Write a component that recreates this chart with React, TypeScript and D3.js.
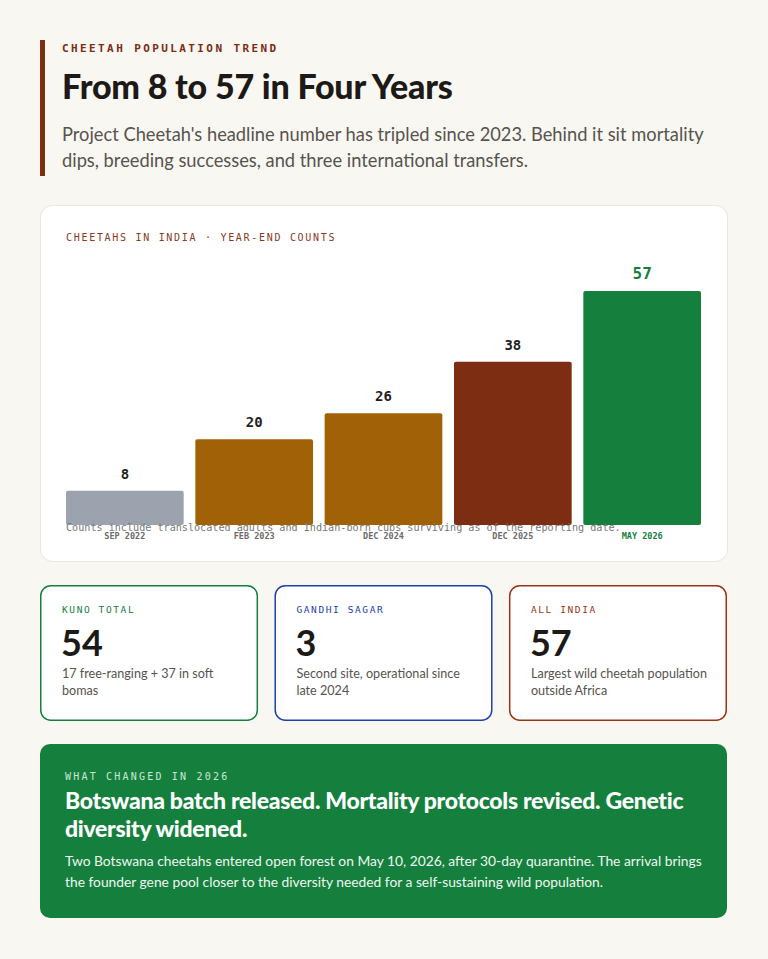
import React from "react";
import * as d3 from "d3";

// chart data
const periods = ["SEP 2022", "FEB 2023", "DEC 2024", "DEC 2025", "MAY 2026"];
const counts = [8, 20, 26, 38, 57];
const barColors = ["#9ca3af", "#a16207", "#a16207", "#7c2d12", "#15803d"];

// stat cards
const statLabels = ["KUNO TOTAL", "GANDHI SAGAR", "ALL INDIA"];
const statValues = [54, 3, 57];
const statNotes = [
  ["17 free-ranging + 37 in soft", "bomas"],
  ["Second site, operational since", "late 2024"],
  ["Largest wild cheetah population", "outside Africa"],
];
const statColors = ["#15803d", "#1e40af", "#9a3412"];

const W = 768;
const H = 959;
const SANS = "Lato, 'Noto Sans', sans-serif";
const MONO = "'DejaVu Sans Mono', monospace";

const App: React.FC = () => {
  const x = d3.scaleBand<string>().domain(periods).range([66, 701]).paddingInner(0.09);
  // the top bar is capped at the plot ceiling, hence the clamp
  const y = d3.scaleLinear().domain([0, 54.5]).range([525, 291]).clamp(true);
  const last = periods.length - 1;

  const cardX = d3.scaleBand<number>().domain([0, 1, 2]).range([40, 727]).paddingInner(0.07);

  return (
    <div style={{ position: "absolute", left: 0, top: 0 }}>
      <svg width={W} height={H} style={{ display: "block" }}>
        <rect width={W} height={H} fill="#f9f7f2" />

        {/* header */}
        <rect x={40} y={40} width={5} height={136} fill="#7c2d12" />
        <text x={62} y={52} fontFamily={MONO} fontSize={11} fontWeight={700} letterSpacing={2.4} fill="#7c2d12">
          CHEETAH POPULATION TREND
        </text>
        <text x={62} y={99} fontFamily={SANS} fontSize={34} fontWeight={900} letterSpacing={-0.2} fill="#1c1917">
          From 8 to 57 in Four Years
        </text>
        <text fontFamily={SANS} fontSize={18.3} fill="#57534e">
          <tspan x={62} y={141}>Project Cheetah's headline number has tripled since 2023. Behind it sit mortality</tspan>
          <tspan x={62} y={167}>dips, breeding successes, and three international transfers.</tspan>
        </text>

        {/* chart card */}
        <rect x={40.5} y={205.5} width={687} height={356} rx={12} fill="#ffffff" stroke="#ebe7e0" />
        <text x={66} y={241} fontFamily={MONO} fontSize={10} letterSpacing={1.7} fill="#8a3a22">
          CHEETAHS IN INDIA · YEAR-END COUNTS
        </text>
        {periods.map((p, i) => (
          <g key={p}>
            <rect
              x={x(p)}
              y={y(counts[i])}
              width={x.bandwidth()}
              height={y(0) - y(counts[i])}
              rx={2}
              fill={barColors[i]}
            />
            <text
              x={(x(p) as number) + x.bandwidth() / 2}
              y={y(counts[i]) - 12}
              textAnchor="middle"
              fontFamily={MONO}
              fontWeight={700}
              fontSize={i === last ? 16 : 14}
              fill={i === last ? "#15803d" : "#1f1f1f"}
            >
              {counts[i]}
            </text>
            <text
              x={(x(p) as number) + x.bandwidth() / 2}
              y={539}
              textAnchor="middle"
              fontFamily={MONO}
              fontWeight={700}
              fontSize={8.5}
              fill={i === last ? "#15803d" : "#6b6b6b"}
            >
              {p}
            </text>
          </g>
        ))}
        <text x={66} y={531} fontFamily={MONO} fontSize={10.15} fill="#777777">
          Counts include translocated adults and Indian-born cubs surviving as of the reporting date.
        </text>

        {/* stat cards */}
        {statLabels.map((label, i) => {
          const cx = cardX(i) as number;
          return (
            <g key={label}>
              <rect x={cx + 0.75} y={585.75} width={cardX.bandwidth() - 1.5} height={134.5} rx={10} fill="#ffffff" stroke={statColors[i]} strokeWidth={1.5} />
              <text x={cx + 22} y={613} fontFamily={MONO} fontSize={9.5} letterSpacing={1.6} fill={statColors[i]}>
                {label}
              </text>
              <text x={cx + 21} y={656} fontFamily={SANS} fontSize={36} fontWeight={700} fill="#1c1917">
                {statValues[i]}
              </text>
              <text fontFamily={SANS} fontSize={12.6} fill="#57534e">
                {statNotes[i].map((line, j) => (
                  <tspan key={j} x={cx + 22} y={678 + j * 17}>
                    {line}
                  </tspan>
                ))}
              </text>
            </g>
          );
        })}

        {/* what changed */}
        <rect x={40} y={744} width={687} height={174} rx={10} fill="#15803d" />
        <text x={65} y={780} fontFamily={MONO} fontSize={10} letterSpacing={2.2} fill="#cfe6d6">
          WHAT CHANGED IN 2026
        </text>
        <text fontFamily={SANS} fontSize={23} fontWeight={900} letterSpacing={-0.3} fill="#ffffff">
          <tspan x={65} y={809}>Botswana batch released. Mortality protocols revised. Genetic</tspan>
          <tspan x={65} y={837}>diversity widened.</tspan>
        </text>
        <text fontFamily={SANS} fontSize={13.8} fill="#eef7f0">
          <tspan x={65} y={866}>Two Botswana cheetahs entered open forest on May 10, 2026, after 30-day quarantine. The arrival brings</tspan>
          <tspan x={65} y={887}>the founder gene pool closer to the diversity needed for a self-sustaining wild population.</tspan>
        </text>
      </svg>
    </div>
  );
};

export default App;
